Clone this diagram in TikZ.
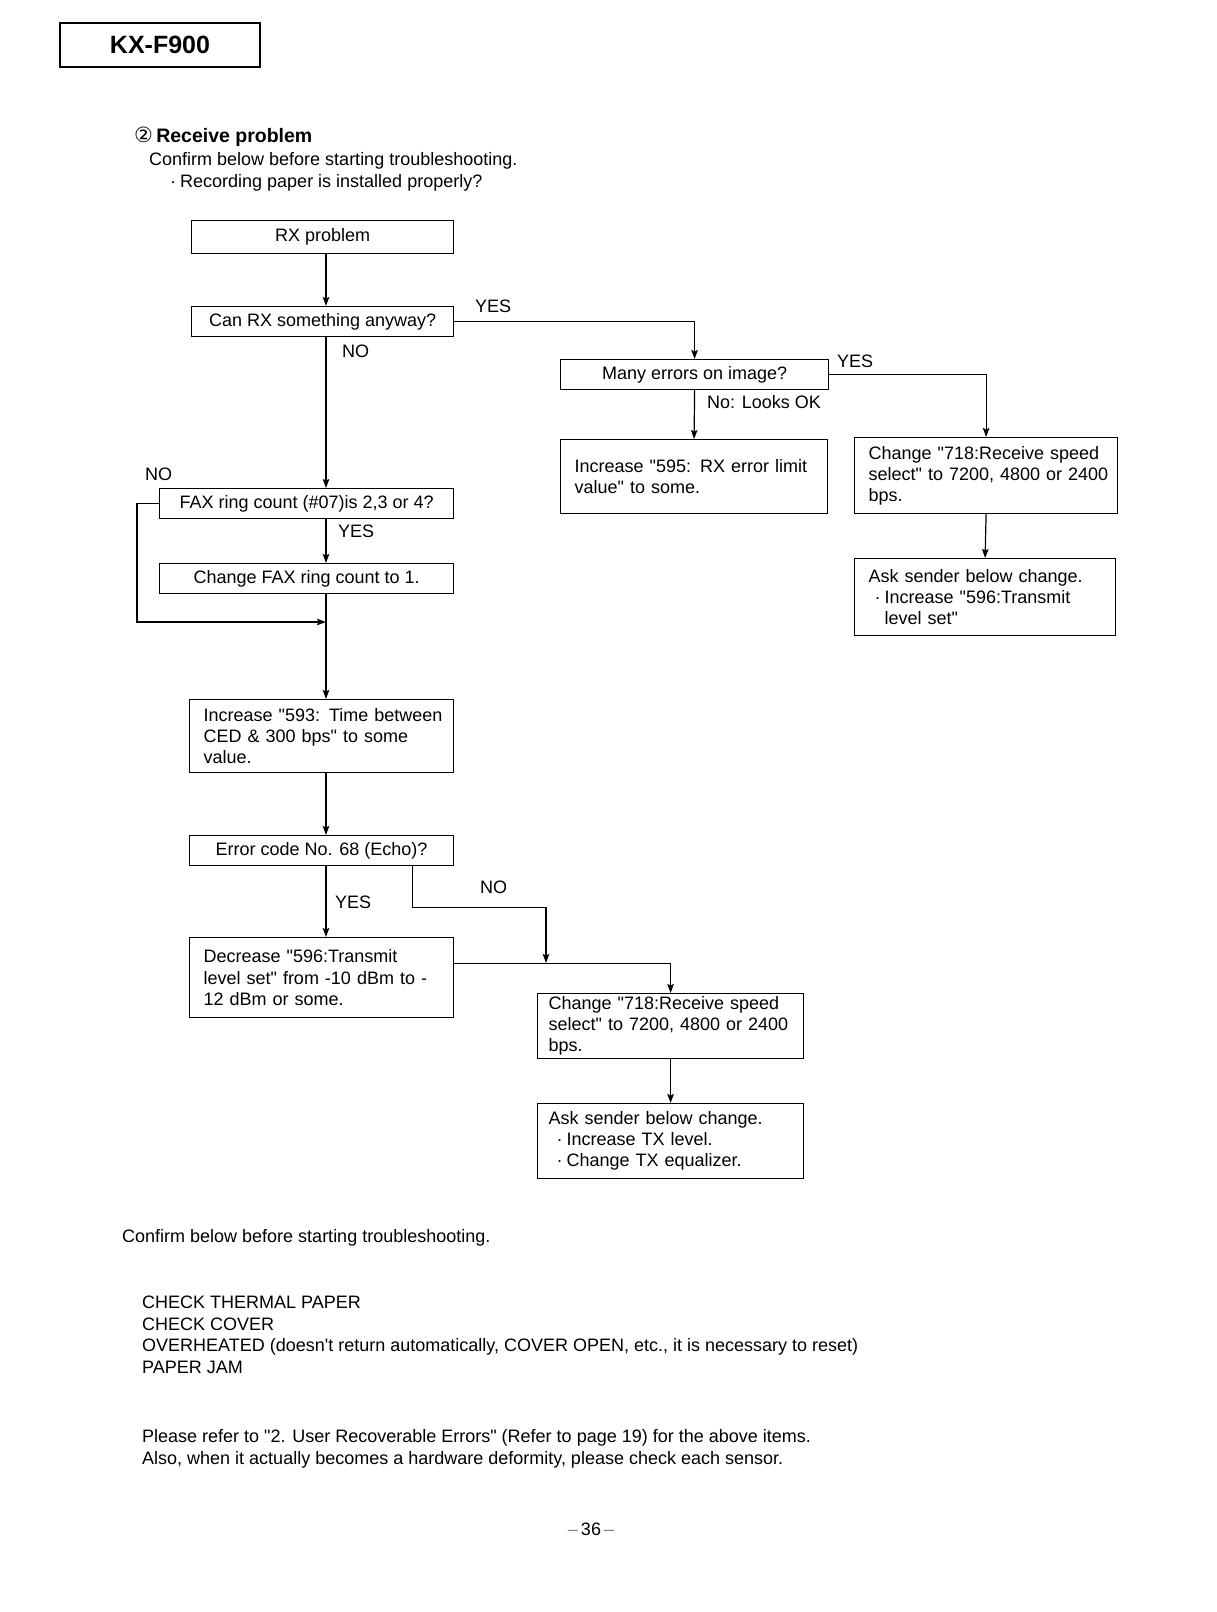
\documentclass[tikz,border=0pt]{standalone}
\usepackage{fontspec}
\setmainfont{Liberation Sans}[Ligatures=TeXOff]
\newfontfamily\dejavu{DejaVu Sans}
\usetikzlibrary{arrows.meta}
\newcommand\fbody{\fontsize{18}{21.2}\selectfont}
\newcommand\lnx[1]{\mbox{#1}}
\begin{document}
\begin{tikzpicture}[x=1pt,y=-1pt,
  box/.style={draw, line width=1.2pt, inner xsep=14pt, inner ysep=0pt, font=\fbody, align=left, anchor=north west},
  cbox/.style={draw, line width=1.2pt, inner sep=0pt, font=\fbody, align=center, anchor=north west},
  lbl/.style={font=\fbody, anchor=base west, inner sep=0pt},
  conn/.style={line width=1.2pt},
  arr/.style={conn, -{Stealth[length=9pt,width=6.5pt,inset=1.5pt]}}]
\useasboundingbox (0,0) rectangle (1216,1612);
\fill[white] (0,0) rectangle (1216,1612);

% header
\node[draw, line width=1.5pt, minimum width=200pt, minimum height=44pt, inner sep=0pt,
  font=\fontsize{25}{28}\selectfont\bfseries] (hdr) at (160,45) {KX-F900};
\node[lbl, font=\fontsize{19.5}{23}\selectfont] (ttl) at (134,142) {{\dejavu\fontsize{21}{23}\selectfont ②}\,\textbf{Receive problem}};
\node[lbl] (conf1) at (149,165) {Confirm below before starting troubleshooting.};
\node[lbl] (conf2) at (170,187) {·\hspace{4pt}Recording paper is installed properly?};

% main column coordinate
\coordinate (col) at (326,0);

% boxes
\node[cbox, minimum width=262pt, minimum height=33pt] (rx) at (191,220) {RX problem};
\node[cbox, minimum width=262pt, minimum height=30pt] (can) at (191,306) {Can RX something anyway?};
\node[cbox, minimum width=268pt, minimum height=30pt] (many) at (560,359) {Many errors on image?};
\node[box, minimum width=267pt, minimum height=74pt, text width=239pt] (inc595) at (560,439) {\lnx{Increase "595: RX error limit}\\\lnx{value" to some.}};
\node[box, minimum width=263pt, minimum height=76pt, text width=235pt] (chga) at (854,437) {\lnx{Change "718:Receive speed}\\\lnx{select" to 7200, 4800 or 2400}\\\lnx{bps.}};
\node[box, minimum width=261pt, minimum height=77pt, text width=233pt] (aska) at (854,558) {\lnx{Ask sender below change.}\\\lnx{\hspace*{6pt}·\hspace{4pt}Increase "596:Transmit}\\\lnx{\hspace*{16pt}level set"}};
\node[cbox, minimum width=294pt, minimum height=30pt] (fax) at (159,488) {FAX ring count (\#07)is 2,3 or 4?};
\node[cbox, minimum width=294pt, minimum height=30pt] (chgfax) at (159,563) {Change FAX ring count to 1.};
\node[box, minimum width=264pt, minimum height=73pt, text width=236pt] (inc593) at (189,699) {\lnx{Increase "593: Time between}\\\lnx{CED \& 300 bps" to some}\\\lnx{value.}};
\node[cbox, minimum width=264pt, minimum height=30pt] (err) at (189,835) {Error code No. 68 (Echo)?};
\node[box, minimum width=264pt, minimum height=80pt, text width=236pt] (dec) at (189,937) {\lnx{Decrease "596:Transmit}\\\lnx{level set" from -10 dBm to -}\\\lnx{12 dBm or some.}};
\node[box, inner xsep=11pt, minimum width=266pt, minimum height=65pt, text width=244pt] (chgb) at (537,993) {\lnx{Change "718:Receive speed}\\\lnx{select" to 7200, 4800 or 2400}\\\lnx{bps.}};
\node[box, inner xsep=11pt, minimum width=266pt, minimum height=75pt, text width=244pt] (askb) at (537,1103) {\lnx{Ask sender below change.}\\\lnx{\hspace*{8pt}·\hspace{4pt}Increase TX level.}\\\lnx{\hspace*{8pt}·\hspace{4pt}Change TX equalizer.}};

% merge points
\coordinate (m1) at (326,622);
\coordinate (m2) at (546,963);

% connectors
\draw[arr] (rx.south -| col) -- (can.north -| col);
\draw[arr] (can.east) -| (many.north);
\draw[arr] (can.south -| col) -- (fax.north -| col);
\draw[arr] (many.south) -- (inc595.north);
\draw[arr] (many.east) -| (chga.north);
\draw[arr] (chga.south) -- (aska.north);
\draw[arr] (fax.south -| col) -- (chgfax.north -| col);
\draw[arr] (fax.west) -- ++(-22,0) |- (m1);
\draw[arr] (chgfax.south -| col) -- (inc593.north -| col);
\draw[arr] (inc593.south -| col) -- (err.north -| col);
\draw[arr] (err.south -| col) -- (dec.north -| col);
\draw[arr] ([xshift=91pt]err.south) -- ++(0,41) -| (m2);
\draw[arr] ([yshift=14pt]dec.east) -| (chgb.north);
\draw[arr] (chgb.south) -- (askb.north);

% labels
\node[lbl] (yes1) at (475,312) {YES};
\node[lbl] (no1) at (342,357) {NO};
\node[lbl] (yes2) at (837,367) {YES};
\node[lbl] (nolook) at (707,408) {No: Looks OK};
\node[lbl] (no2) at (145,480) {NO};
\node[lbl] (yes3) at (338,537) {YES};
\node[lbl] (yes4) at (335,908) {YES};
\node[lbl] (no3) at (480,893) {NO};

% bottom text
\node[lbl] (conf3) at (122,1242) {Confirm below before starting troubleshooting.};
\node[lbl] (l1) at (142,1308) {CHECK THERMAL PAPER};
\node[lbl] (l2) at (142,1330) {CHECK COVER};
\node[lbl] (l3) at (142,1351) {OVERHEATED (doesn't return automatically, COVER OPEN, etc., it is necessary to reset)};
\node[lbl] (l4) at (142,1373) {PAPER JAM};
\node[lbl] (p1) at (142,1442) {Please refer to "2. User Recoverable Errors" (Refer to page 19) for the above items.};
\node[lbl] (p2) at (142,1464) {Also, when it actually becomes a hardware deformity, please check each sensor.};
\node[font=\fbody, anchor=base, inner sep=0pt] (pg) at (591,1535) {{\color{gray}–}\,36\,{\color{gray}–}};
\end{tikzpicture}
\end{document}
